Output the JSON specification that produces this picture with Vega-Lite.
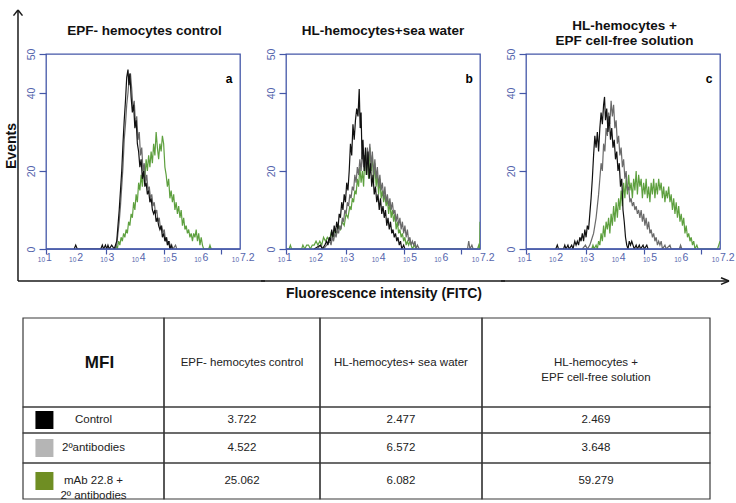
{
"$schema":"https://vega.github.io/schema/vega-lite/v6.json",
"padding":{"left":4,"top":8,"right":2,"bottom":1},
"background":"white",
"config":{
 "font":"Liberation Sans",
 "view":{"stroke":"#4457a8","strokeWidth":1.3},
 "axis":{"grid":false,"domain":false,"tickColor":"#4457a8","labelColor":"#5565ad","tickWidth":1.2}
},
"datasets":{
 "exps":[{"e":1,"l":"1"},{"e":2,"l":"2"},{"e":3,"l":"3"},{"e":4,"l":"4"},{"e":5,"l":"5"},{"e":6,"l":"6"},{"e":7.2,"l":"7.2"}],
 "hist":[
  {"p":"a","s":"g","v":[[3.20,0],[3.24,1],[3.28,0],[3.32,2],[3.36,1],[3.40,3],[3.44,2],[3.48,4],[3.52,3],[3.56,5],[3.60,4],[3.64,7],[3.68,6],[3.72,9],[3.76,8],[3.80,12],[3.84,10],[3.88,14],[3.92,12],[3.96,17],[4.00,15],[4.04,19],[4.08,16],[4.12,21],[4.16,18],[4.20,23],[4.24,20],[4.28,24],[4.32,21],[4.36,25],[4.40,22],[4.44,27],[4.48,24],[4.52,30],[4.56,26],[4.60,23],[4.64,27],[4.68,25],[4.72,29],[4.76,27],[4.80,21],[4.84,19],[4.88,16],[4.92,18],[4.96,13],[5.00,15],[5.04,12],[5.08,14],[5.12,10],[5.16,12],[5.20,9],[5.24,11],[5.28,8],[5.32,10],[5.36,6],[5.40,8],[5.44,5],[5.48,6],[5.52,4],[5.56,5],[5.60,3],[5.64,4],[5.68,2],[5.72,4],[5.76,3],[5.80,5],[5.84,2],[5.88,4],[5.92,1],[5.96,3],[6.00,1],[6.04,0],[6.20,0],[6.24,1],[6.28,0]]},
  {"p":"a","s":"v","v":[[3.20,0],[3.26,1],[3.30,4],[3.34,7],[3.38,11],[3.42,16],[3.46,21],[3.50,28],[3.54,32],[3.58,37],[3.62,40],[3.66,44],[3.70,45],[3.74,41],[3.78,36],[3.82,38],[3.86,32],[3.90,34],[3.94,28],[3.98,30],[4.02,24],[4.06,26],[4.10,20],[4.14,22],[4.18,17],[4.22,19],[4.26,15],[4.30,16],[4.34,13],[4.38,14],[4.42,11],[4.46,12],[4.50,9],[4.54,10],[4.58,7],[4.62,8],[4.66,5],[4.70,6],[4.74,4],[4.78,5],[4.82,2],[4.86,3],[4.90,1],[4.94,2],[4.98,0],[5.02,1],[5.06,0],[5.14,1],[5.18,0]]},
  {"p":"a","s":"k","v":[[1.90,0],[1.95,1],[2.00,0],[2.75,0],[2.80,1],[2.84,0],[2.90,1],[2.94,0],[2.98,1],[3.02,0],[3.10,1],[3.18,0],[3.22,1],[3.26,2],[3.30,6],[3.34,10],[3.38,15],[3.42,20],[3.46,27],[3.50,33],[3.54,38],[3.58,44],[3.62,46],[3.65,42],[3.68,45],[3.72,39],[3.76,35],[3.80,37],[3.84,31],[3.88,33],[3.92,27],[3.96,25],[4.00,21],[4.04,23],[4.08,18],[4.12,20],[4.16,16],[4.20,17],[4.24,14],[4.28,15],[4.32,12],[4.36,13],[4.40,10],[4.44,9],[4.48,10],[4.52,7],[4.56,8],[4.60,6],[4.64,5],[4.68,6],[4.72,3],[4.76,4],[4.80,2],[4.84,3],[4.88,1],[4.92,2],[4.96,0],[5.00,1],[5.04,0]]},
  {"p":"b","s":"g","v":[[1.10,0],[1.14,1],[1.18,0],[1.50,0],[1.54,1],[1.60,0],[1.66,1],[1.72,1],[1.78,0],[1.84,1],[1.90,1],[1.96,2],[2.02,1],[2.08,2],[2.14,1],[2.20,3],[2.26,2],[2.32,3],[2.38,2],[2.44,4],[2.50,3],[2.56,5],[2.62,4],[2.68,6],[2.74,5],[2.80,7],[2.86,6],[2.92,9],[2.98,8],[3.04,11],[3.08,10],[3.12,13],[3.16,12],[3.20,15],[3.24,14],[3.28,18],[3.32,16],[3.36,21],[3.40,17],[3.44,20],[3.48,16],[3.52,24],[3.56,19],[3.60,25],[3.64,18],[3.68,26],[3.72,20],[3.76,24],[3.80,17],[3.84,22],[3.88,16],[3.92,19],[3.96,14],[4.00,18],[4.04,13],[4.08,15],[4.12,12],[4.16,14],[4.20,11],[4.24,13],[4.28,9],[4.32,12],[4.36,8],[4.40,10],[4.44,7],[4.48,9],[4.52,5],[4.56,7],[4.60,4],[4.64,5],[4.68,3],[4.72,4],[4.76,2],[4.80,3],[4.84,1],[4.88,2],[4.92,1],[4.96,2],[5.00,1],[5.04,0],[5.10,1],[5.16,0],[7.12,0],[7.16,1],[7.19,0],[7.20,7]]},
  {"p":"b","s":"v","v":[[2.00,0],[2.10,1],[2.20,0],[2.30,1],[2.40,2],[2.44,1],[2.48,3],[2.52,2],[2.56,4],[2.60,3],[2.64,5],[2.68,4],[2.72,6],[2.76,5],[2.80,8],[2.84,7],[2.88,10],[2.92,9],[2.96,12],[3.00,11],[3.04,14],[3.08,13],[3.12,16],[3.16,15],[3.20,19],[3.24,17],[3.28,21],[3.32,19],[3.36,23],[3.40,20],[3.44,25],[3.48,21],[3.52,24],[3.56,20],[3.60,26],[3.64,22],[3.68,27],[3.72,21],[3.76,25],[3.80,19],[3.84,23],[3.88,18],[3.92,21],[3.96,16],[4.00,19],[4.04,15],[4.08,17],[4.12,13],[4.16,16],[4.20,12],[4.24,14],[4.28,11],[4.32,13],[4.36,10],[4.40,12],[4.44,9],[4.48,10],[4.52,7],[4.56,9],[4.60,6],[4.64,8],[4.68,5],[4.72,7],[4.76,4],[4.80,6],[4.84,3],[4.88,5],[4.92,2],[4.96,3],[5.00,1],[5.04,2],[5.08,1],[5.12,2],[5.16,0],[5.20,1],[5.26,0],[6.80,0],[6.84,2],[6.88,0],[6.94,1],[6.98,0]]},
  {"p":"b","s":"k","v":[[1.90,0],[2.10,1],[2.16,0],[2.24,1],[2.30,2],[2.34,1],[2.38,3],[2.42,2],[2.46,5],[2.50,3],[2.54,6],[2.58,4],[2.62,7],[2.66,5],[2.70,9],[2.74,8],[2.78,12],[2.82,10],[2.86,14],[2.90,12],[2.94,17],[2.98,15],[3.02,20],[3.06,27],[3.10,24],[3.14,32],[3.18,28],[3.22,33],[3.26,36],[3.30,34],[3.34,41],[3.37,31],[3.40,35],[3.43,23],[3.46,28],[3.50,20],[3.54,26],[3.58,19],[3.62,25],[3.66,18],[3.70,22],[3.74,16],[3.78,19],[3.82,14],[3.86,16],[3.90,12],[3.94,14],[3.98,10],[4.02,13],[4.06,9],[4.10,11],[4.14,8],[4.18,10],[4.22,6],[4.26,8],[4.30,5],[4.34,7],[4.38,4],[4.42,5],[4.46,3],[4.50,4],[4.54,2],[4.58,3],[4.62,1],[4.66,2],[4.70,0],[4.76,1],[4.80,0]]},
  {"p":"c","s":"g","v":[[3.10,0],[3.14,1],[3.18,0],[3.24,1],[3.28,0],[3.32,2],[3.36,1],[3.40,4],[3.44,2],[3.48,6],[3.52,3],[3.56,7],[3.60,5],[3.64,8],[3.68,4],[3.72,9],[3.76,6],[3.80,11],[3.84,7],[3.88,12],[3.92,8],[3.96,13],[4.00,10],[4.04,15],[4.08,11],[4.12,17],[4.16,13],[4.20,18],[4.24,14],[4.28,19],[4.32,15],[4.36,17],[4.40,13],[4.44,18],[4.48,15],[4.52,20],[4.56,14],[4.60,19],[4.64,16],[4.68,18],[4.72,13],[4.76,17],[4.80,14],[4.84,18],[4.88,13],[4.92,16],[4.96,12],[5.00,17],[5.04,14],[5.08,18],[5.12,13],[5.16,17],[5.20,14],[5.24,18],[5.28,15],[5.32,17],[5.36,13],[5.40,16],[5.44,12],[5.48,15],[5.52,13],[5.56,16],[5.60,12],[5.64,14],[5.68,10],[5.72,13],[5.76,9],[5.80,12],[5.84,8],[5.88,11],[5.92,7],[5.96,9],[6.00,6],[6.04,8],[6.08,4],[6.12,6],[6.16,3],[6.20,4],[6.24,2],[6.28,3],[6.32,1],[6.36,2],[6.40,0],[6.46,1],[6.50,0],[7.12,0],[7.16,1],[7.20,2]]},
  {"p":"c","s":"v","v":[[2.80,0],[2.90,1],[2.96,0],[3.04,1],[3.08,2],[3.12,3],[3.16,4],[3.20,6],[3.24,8],[3.28,11],[3.32,14],[3.36,18],[3.40,22],[3.44,20],[3.48,27],[3.52,25],[3.56,31],[3.60,29],[3.64,35],[3.68,32],[3.72,38],[3.76,34],[3.80,37],[3.84,31],[3.88,33],[3.92,27],[3.96,29],[4.00,24],[4.04,26],[4.08,21],[4.12,23],[4.16,18],[4.20,20],[4.24,15],[4.28,16],[4.32,12],[4.36,13],[4.40,11],[4.44,12],[4.48,10],[4.52,11],[4.56,9],[4.60,10],[4.64,8],[4.68,10],[4.72,7],[4.76,9],[4.80,6],[4.84,8],[4.88,5],[4.92,7],[4.96,4],[5.00,5],[5.04,3],[5.08,4],[5.12,2],[5.16,3],[5.20,1],[5.24,2],[5.28,1],[5.32,2],[5.36,0],[5.44,1],[5.48,0],[5.60,1],[5.64,0],[5.90,0],[5.94,1],[5.98,0]]},
  {"p":"c","s":"k","v":[[1.95,0],[2.00,1],[2.04,0],[2.20,0],[2.24,1],[2.28,0],[2.34,1],[2.38,0],[2.46,1],[2.50,0],[2.56,2],[2.60,1],[2.64,2],[2.68,1],[2.72,3],[2.76,2],[2.80,4],[2.84,2],[2.88,5],[2.92,3],[2.96,6],[3.00,5],[3.04,9],[3.08,13],[3.12,18],[3.16,24],[3.20,29],[3.24,26],[3.28,30],[3.32,25],[3.36,31],[3.40,35],[3.44,32],[3.48,37],[3.51,39],[3.54,33],[3.58,36],[3.62,30],[3.66,34],[3.70,28],[3.74,31],[3.78,26],[3.82,28],[3.86,23],[3.90,25],[3.94,20],[3.98,22],[4.02,16],[4.06,18],[4.10,10],[4.14,7],[4.18,3],[4.22,1],[4.26,0],[4.30,2],[4.34,1],[4.38,2],[4.42,1],[4.46,0],[4.52,1],[4.56,0],[4.62,1],[4.66,0],[4.74,1],[4.78,0],[4.86,1],[4.90,0]]}
 ]
},
"resolve":{"scale":{"x":"independent","y":"independent","color":"independent"}},
"spacing":15,
"vconcat":[
 {"bounds":"flush","spacing":46,"hconcat":[
   {"width":194,"height":195,
    "layer":[
     {"data":{"name":"hist"},"transform":[{"filter":"datum.p=='a'"},{"flatten":["v"]},{"calculate":"datum.v[0]","as":"x"},{"calculate":"datum.v[1]","as":"y"}],
      "mark":{"type":"line","strokeWidth":1.2,"clip":true},
      "encoding":{
       "x":{"field":"x","type":"quantitative","scale":{"domain":[1,7.2],"nice":false,"zero":false},"axis":{"values":[1,1.301,1.477,1.602,1.699,1.778,1.845,1.903,1.954,2,2.301,2.477,2.602,2.699,2.778,2.845,2.903,2.954,3,3.301,3.477,3.602,3.699,3.778,3.845,3.903,3.954,4,4.301,4.477,4.602,4.699,4.778,4.845,4.903,4.954,5,5.301,5.477,5.602,5.699,5.778,5.845,5.903,5.954,6,6.301,6.477,6.602,6.699,6.778,6.845,6.903,6.954,7,7.2],"labels":false,"tickSize":5,"title":null}},
       "y":{"field":"y","type":"quantitative","scale":{"domain":[0,50],"nice":false,"zero":false},"axis":{"values":[0,20,40,50],"tickSize":7,"labelAngle":-90,"labelAlign":"center","labelBaseline":"bottom","labelPadding":3,"labelFontSize":10.5,"title":null}},
       "color":{"field":"s","type":"nominal","scale":{"domain":["g","v","k"],"range":["#5ea03f","#6a6a6a","#111111"]},"legend":null}}},
     {"data":{"values":[{}]},"mark":{"type":"rule","color":"#4457a8","strokeWidth":1.3},"encoding":{"y":{"datum":0}}},
     {"data":{"name":"exps"},"mark":{"type":"text","align":"right","baseline":"alphabetic","dx":-1,"dy":13,"fontSize":6.5,"color":"#5565ad"},"encoding":{"x":{"field":"e","type":"quantitative"},"y":{"datum":0},"text":{"value":"10"}}},
     {"data":{"name":"exps"},"mark":{"type":"text","align":"left","baseline":"alphabetic","dx":0,"dy":12,"fontSize":10.5,"color":"#5565ad"},"encoding":{"x":{"field":"e","type":"quantitative"},"y":{"datum":0},"text":{"field":"l"}}},
     {"data":{"values":[{}]},"mark":{"type":"text","fontSize":12,"fontWeight":"bold","color":"#000000"},"encoding":{"x":{"datum":6.85},"y":{"datum":43.6},"text":{"value":"a"}}},
     {"data":{"values":[{}]},"mark":{"type":"text","fontSize":13.5,"fontWeight":"bold","color":"#111111","baseline":"middle","clip":false},"encoding":{"x":{"datum":4.15},"y":{"datum":55.9},"text":{"value":"EPF- hemocytes control"}}},
     {"data":{"values":[{"x":0.105,"y":-8.21,"x2":0.105,"y2":61.3},{"x":-0.039,"y":59.84,"x2":0.105,"y2":61.3},{"x":0.249,"y":59.84,"x2":0.105,"y2":61.3},{"x":0.105,"y":-8.21,"x2":8.0,"y2":-8.21}]},
      "mark":{"type":"rule","color":"#1a1a1a","strokeWidth":1.5,"clip":false},
      "encoding":{"x":{"field":"x","type":"quantitative"},"y":{"field":"y","type":"quantitative"},"x2":{"field":"x2"},"y2":{"field":"y2"}}},
     {"data":{"values":[{}]},"mark":{"type":"text","angle":270,"fontSize":14,"fontWeight":"bold","color":"#111111"},"encoding":{"x":{"datum":-0.087},"y":{"datum":26.4},"text":{"value":"Events"}}}
    ]},
   {"width":194,"height":195,
    "layer":[
     {"data":{"name":"hist"},"transform":[{"filter":"datum.p=='b'"},{"flatten":["v"]},{"calculate":"datum.v[0]","as":"x"},{"calculate":"datum.v[1]","as":"y"}],
      "mark":{"type":"line","strokeWidth":1.2,"clip":true},
      "encoding":{
       "x":{"field":"x","type":"quantitative","scale":{"domain":[1,7.2],"nice":false,"zero":false},"axis":{"values":[1,1.301,1.477,1.602,1.699,1.778,1.845,1.903,1.954,2,2.301,2.477,2.602,2.699,2.778,2.845,2.903,2.954,3,3.301,3.477,3.602,3.699,3.778,3.845,3.903,3.954,4,4.301,4.477,4.602,4.699,4.778,4.845,4.903,4.954,5,5.301,5.477,5.602,5.699,5.778,5.845,5.903,5.954,6,6.301,6.477,6.602,6.699,6.778,6.845,6.903,6.954,7,7.2],"labels":false,"tickSize":5,"title":null}},
       "y":{"field":"y","type":"quantitative","scale":{"domain":[0,50],"nice":false,"zero":false},"axis":{"values":[0,20,40,50],"tickSize":7,"labelAngle":-90,"labelAlign":"center","labelBaseline":"bottom","labelPadding":3,"labelFontSize":10.5,"title":null}},
       "color":{"field":"s","type":"nominal","scale":{"domain":["g","v","k"],"range":["#5ea03f","#6a6a6a","#111111"]},"legend":null}}},
     {"data":{"values":[{}]},"mark":{"type":"rule","color":"#4457a8","strokeWidth":1.3},"encoding":{"y":{"datum":0}}},
     {"data":{"name":"exps"},"mark":{"type":"text","align":"right","baseline":"alphabetic","dx":-1,"dy":13,"fontSize":6.5,"color":"#5565ad"},"encoding":{"x":{"field":"e","type":"quantitative"},"y":{"datum":0},"text":{"value":"10"}}},
     {"data":{"name":"exps"},"mark":{"type":"text","align":"left","baseline":"alphabetic","dx":0,"dy":12,"fontSize":10.5,"color":"#5565ad"},"encoding":{"x":{"field":"e","type":"quantitative"},"y":{"datum":0},"text":{"field":"l"}}},
     {"data":{"values":[{}]},"mark":{"type":"text","fontSize":12,"fontWeight":"bold","color":"#000000"},"encoding":{"x":{"datum":6.85},"y":{"datum":43.6},"text":{"value":"b"}}},
     {"data":{"values":[{}]},"mark":{"type":"text","fontSize":13.5,"fontWeight":"bold","color":"#111111","baseline":"middle","clip":false},"encoding":{"x":{"datum":4.1},"y":{"datum":55.9},"text":{"value":"HL-hemocytes+sea water"}}},
     {"data":{"values":[{"x":0.2,"y":-8.21,"x2":8.0,"y2":-8.21}]},
      "mark":{"type":"rule","color":"#1a1a1a","strokeWidth":1.5,"clip":false},
      "encoding":{"x":{"field":"x","type":"quantitative"},"y":{"field":"y","type":"quantitative"},"x2":{"field":"x2"},"y2":{"field":"y2"}}},
     {"data":{"values":[{}]},"mark":{"type":"text","fontSize":14,"fontWeight":"bold","color":"#111111"},"encoding":{"x":{"datum":4.13},"y":{"datum":-11.5},"text":{"value":"Fluorescence intensity (FITC)"}}}
    ]},
   {"width":194,"height":195,
    "layer":[
     {"data":{"name":"hist"},"transform":[{"filter":"datum.p=='c'"},{"flatten":["v"]},{"calculate":"datum.v[0]","as":"x"},{"calculate":"datum.v[1]","as":"y"}],
      "mark":{"type":"line","strokeWidth":1.2,"clip":true},
      "encoding":{
       "x":{"field":"x","type":"quantitative","scale":{"domain":[1,7.2],"nice":false,"zero":false},"axis":{"values":[1,1.301,1.477,1.602,1.699,1.778,1.845,1.903,1.954,2,2.301,2.477,2.602,2.699,2.778,2.845,2.903,2.954,3,3.301,3.477,3.602,3.699,3.778,3.845,3.903,3.954,4,4.301,4.477,4.602,4.699,4.778,4.845,4.903,4.954,5,5.301,5.477,5.602,5.699,5.778,5.845,5.903,5.954,6,6.301,6.477,6.602,6.699,6.778,6.845,6.903,6.954,7,7.2],"labels":false,"tickSize":5,"title":null}},
       "y":{"field":"y","type":"quantitative","scale":{"domain":[0,50],"nice":false,"zero":false},"axis":{"values":[0,20,40,50],"tickSize":7,"labelAngle":-90,"labelAlign":"center","labelBaseline":"bottom","labelPadding":3,"labelFontSize":10.5,"title":null}},
       "color":{"field":"s","type":"nominal","scale":{"domain":["g","v","k"],"range":["#5ea03f","#6a6a6a","#111111"]},"legend":null}}},
     {"data":{"values":[{}]},"mark":{"type":"rule","color":"#4457a8","strokeWidth":1.3},"encoding":{"y":{"datum":0}}},
     {"data":{"name":"exps"},"mark":{"type":"text","align":"right","baseline":"alphabetic","dx":-1,"dy":13,"fontSize":6.5,"color":"#5565ad"},"encoding":{"x":{"field":"e","type":"quantitative"},"y":{"datum":0},"text":{"value":"10"}}},
     {"data":{"name":"exps"},"mark":{"type":"text","align":"left","baseline":"alphabetic","dx":0,"dy":12,"fontSize":10.5,"color":"#5565ad"},"encoding":{"x":{"field":"e","type":"quantitative"},"y":{"datum":0},"text":{"field":"l"}}},
     {"data":{"values":[{}]},"mark":{"type":"text","fontSize":12,"fontWeight":"bold","color":"#000000"},"encoding":{"x":{"datum":6.85},"y":{"datum":43.6},"text":{"value":"c"}}},
     {"data":{"values":[{}]},"mark":{"type":"text","fontSize":13.5,"fontWeight":"bold","color":"#111111","baseline":"middle","lineBreak":"\n","lineHeight":15,"clip":false},"encoding":{"x":{"datum":4.15},"y":{"datum":57.3},"text":{"value":"HL-hemocytes +\nEPF cell-free solution"}}},
     {"data":{"values":[{"x":0.2,"y":-8.21,"x2":7.488,"y2":-8.21},{"x":7.232,"y":-7.36,"x2":7.488,"y2":-8.21},{"x":7.232,"y":-9.06,"x2":7.488,"y2":-8.21}]},
      "mark":{"type":"rule","color":"#1a1a1a","strokeWidth":1.5,"clip":false},
      "encoding":{"x":{"field":"x","type":"quantitative"},"y":{"field":"y","type":"quantitative"},"x2":{"field":"x2"},"y2":{"field":"y2"}}}
    ]}
 ]},
 {"width":664,"height":181,"view":{"stroke":null},
  "data":{"values":[
   {"ci":0,"ri":0,"t":"MFI"},{"ci":1,"ri":0,"t":"EPF- hemocytes control"},{"ci":2,"ri":0,"t":"HL-hemocytes+ sea water"},{"ci":3,"ri":0,"t":"HL-hemocytes +\nEPF cell-free solution"},
   {"ci":0,"ri":1,"t":"Control"},{"ci":1,"ri":1,"t":"3.722"},{"ci":2,"ri":1,"t":"2.477"},{"ci":3,"ri":1,"t":"2.469"},
   {"ci":0,"ri":2,"t":"2ºantibodies"},{"ci":1,"ri":2,"t":"4.522"},{"ci":2,"ri":2,"t":"6.572"},{"ci":3,"ri":2,"t":"3.648"},
   {"ci":0,"ri":3,"t":"mAb 22.8 +\n2º antibodies"},{"ci":1,"ri":3,"t":"25.062"},{"ci":2,"ri":3,"t":"6.082"},{"ci":3,"ri":3,"t":"59.279"}
  ]},
  "transform":[{"calculate":"datum.ci+1","as":"ci2"},{"calculate":"datum.ri+1","as":"ri2"},{"calculate":"datum.ci+0.5","as":"cx"},{"calculate":"datum.ri+0.5","as":"cy"}],
  "layer":[
   {"mark":{"type":"rect","filled":false,"color":"#3a3a3a","strokeWidth":1.2,"clip":false},
    "encoding":{"x":{"field":"ci","type":"quantitative","scale":{"domain":[0,1,2,3,4],"range":[-23,118,274,436,664],"nice":false,"zero":false},"axis":null},"x2":{"field":"ci2"},
     "y":{"field":"ri","type":"quantitative","scale":{"domain":[0,1,2,3,4],"range":[0,89,115,145,181],"nice":false,"zero":false},"axis":null},"y2":{"field":"ri2"}}},
   {"transform":[{"filter":"datum.t != 'MFI'"}],"mark":{"type":"text","fontSize":11.5,"color":"#222222","lineBreak":"\n","lineHeight":15},
    "encoding":{"x":{"field":"cx","type":"quantitative","axis":null},"y":{"field":"cy","type":"quantitative","axis":null},"text":{"field":"t"}}},
   {"transform":[{"filter":"datum.t == 'MFI'"}],"mark":{"type":"text","fontSize":17,"fontWeight":"bold","color":"#111111","dx":6},
    "encoding":{"x":{"field":"cx","type":"quantitative","axis":null},"y":{"field":"cy","type":"quantitative","axis":null},"text":{"field":"t"}}},
   {"data":{"values":[{"ri":1,"c":"k"},{"ri":2,"c":"v"},{"ri":3,"c":"g"}]},"transform":[{"calculate":"datum.ri+0.5","as":"cy"}],
    "mark":{"type":"square","size":324,"opacity":1,"filled":true},
    "encoding":{"x":{"datum":0.152},"y":{"field":"cy","type":"quantitative","axis":null},"color":{"field":"c","type":"nominal","scale":{"domain":["k","v","g"],"range":["#000000","#b5b5b5","#6f8e23"]},"legend":null}}}
  ]}
]
}
